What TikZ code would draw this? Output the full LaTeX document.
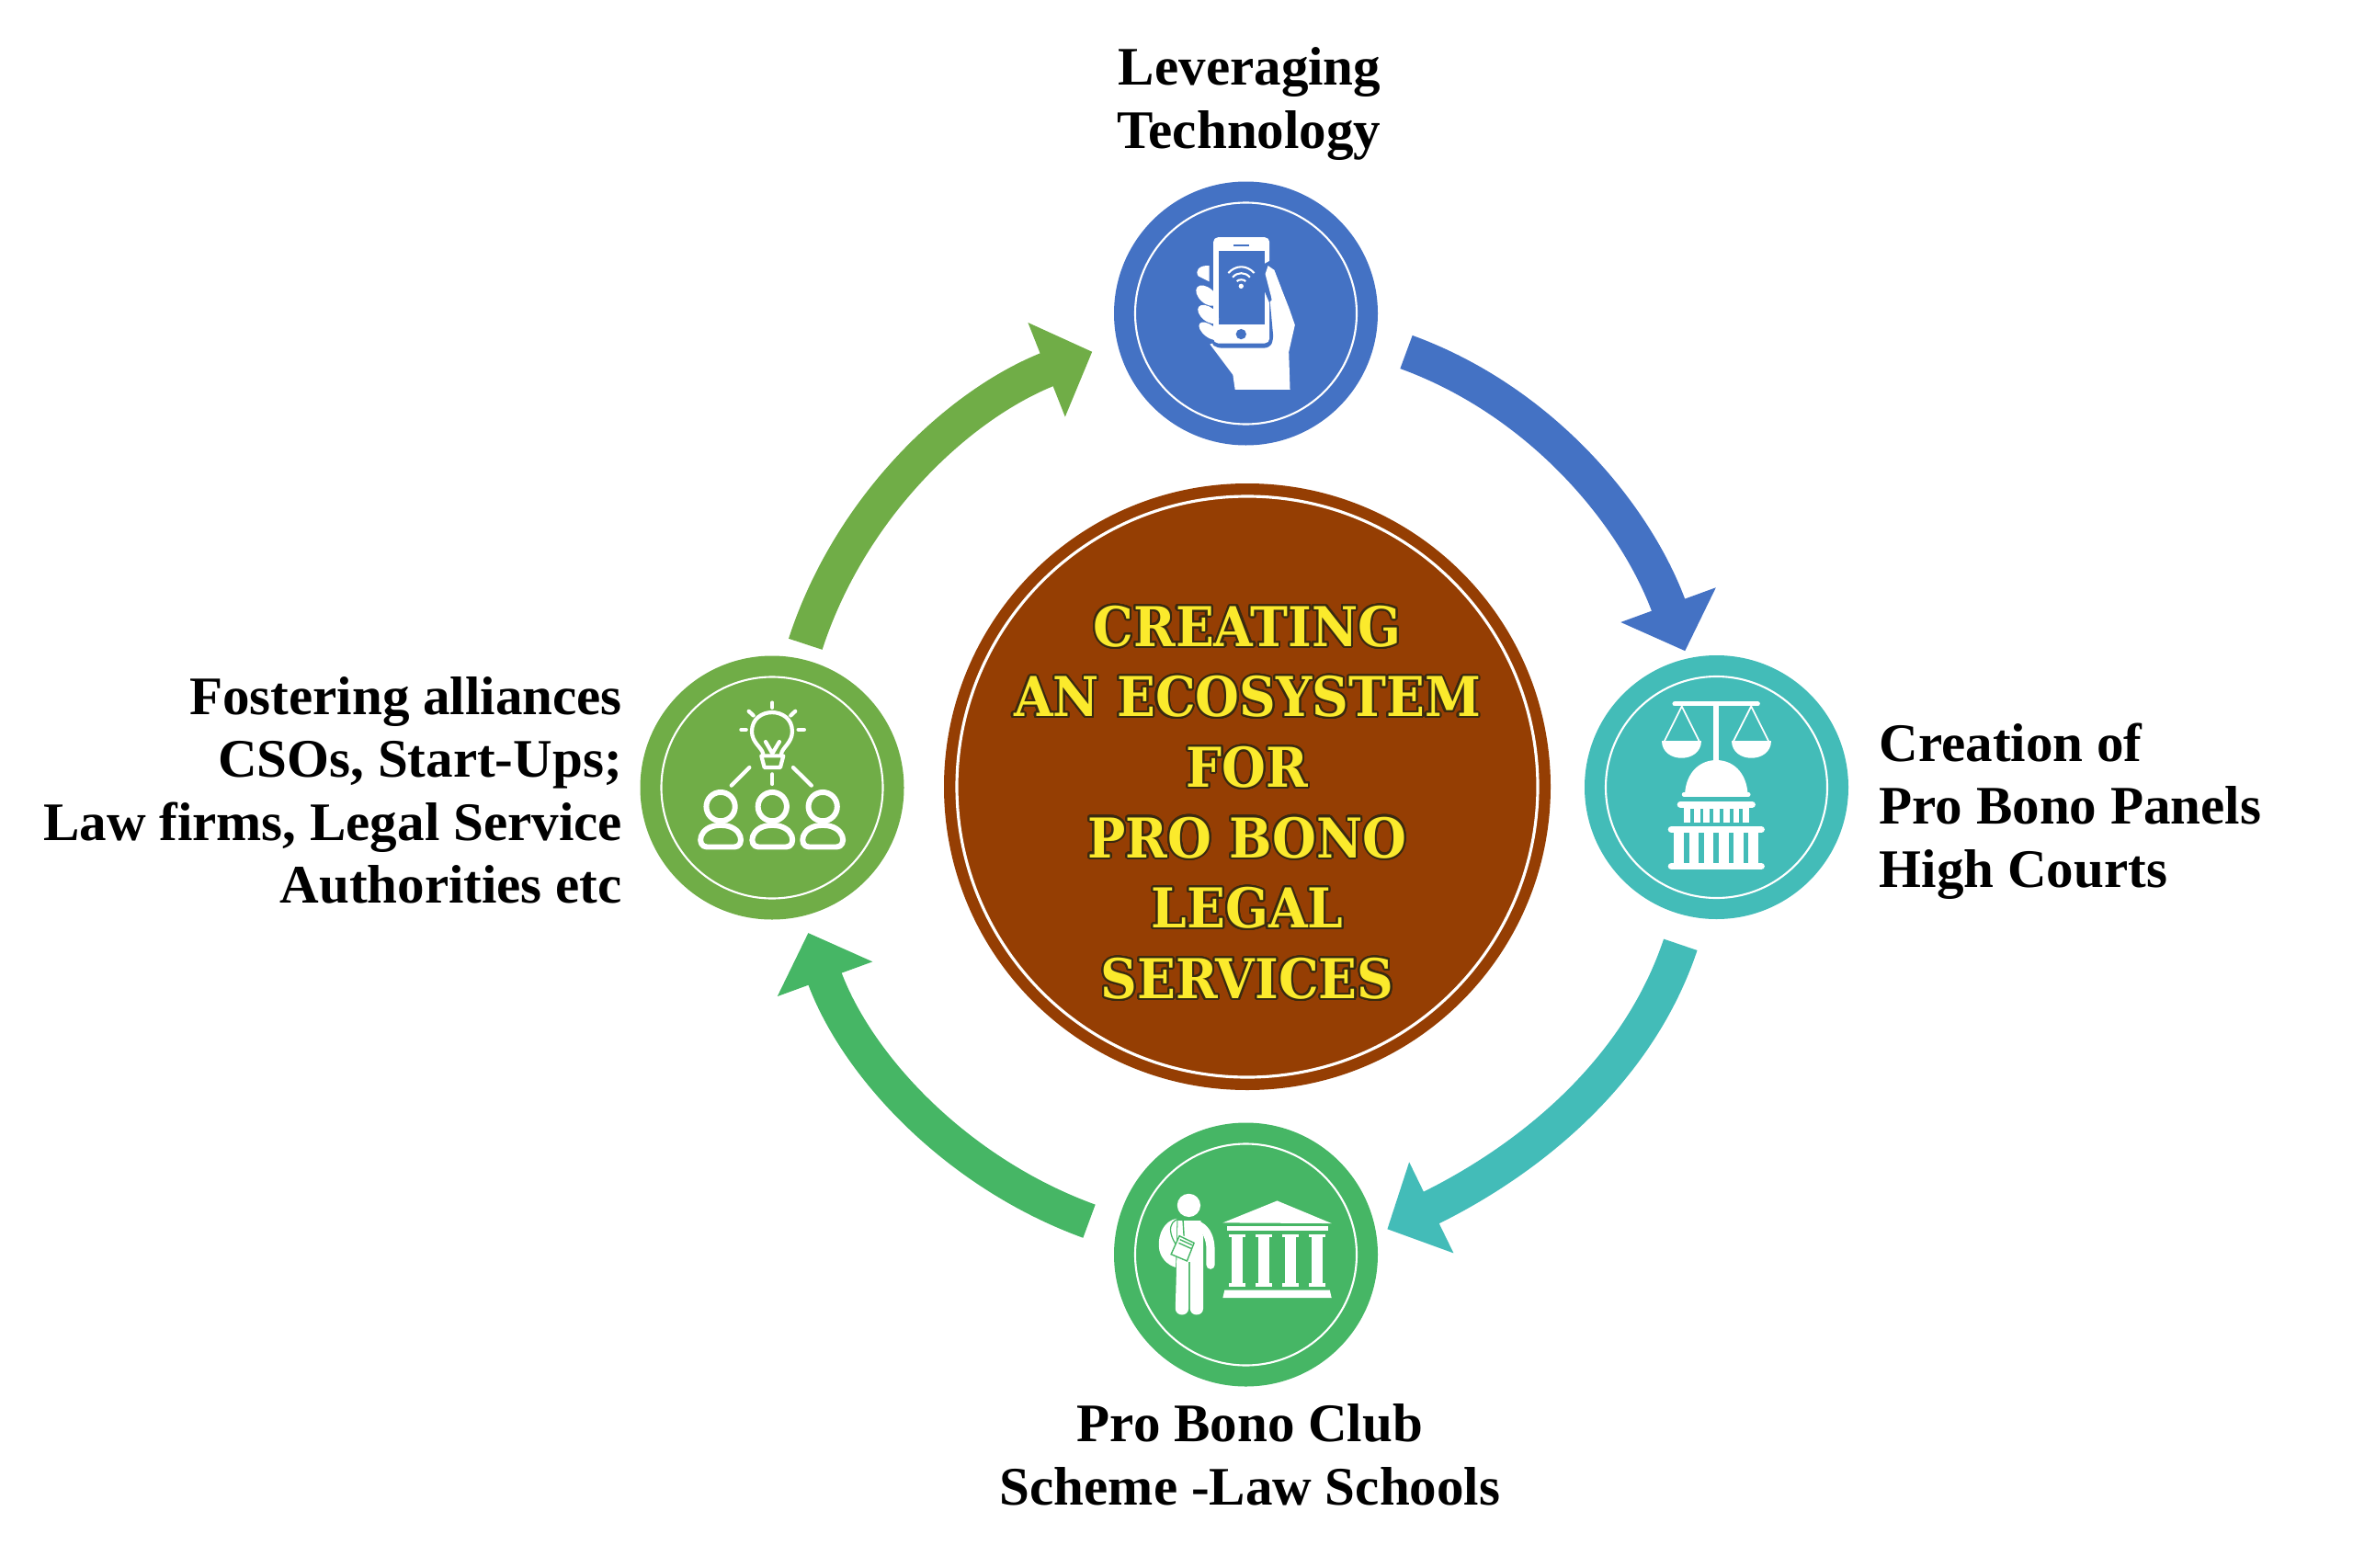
\documentclass[tikz,border=0pt]{standalone}
\usepackage{fontspec}
\usepackage{contour}
\usetikzlibrary{arrows.meta, positioning}
\setmainfont{Liberation Serif}
\newfontfamily\hubfont[FakeStretch=0.92]{DejaVu Serif}
\definecolor{techblue}{HTML}{4472C4}
\definecolor{courtteal}{HTML}{43BCB8}
\definecolor{clubgreen}{HTML}{46B665}
\definecolor{allygreen}{HTML}{70AD47}
\definecolor{hubbrown}{HTML}{953E03}
\definecolor{hubyellow}{HTML}{FBEA2C}
\definecolor{huboutline}{HTML}{3A2A10}
\contourlength{0.6pt}
\contournumber{32}
\newcommand{\hubline}[1]{\contour{huboutline}{#1}}
\tikzset{
    hubnode/.style={circle, draw=none, fill=hubbrown, minimum size=6.6cm, inner sep=0pt},
    stepnode/.style={circle, draw=none, minimum size=2.87cm, inner sep=0pt},
    ringline/.style={draw=white, line width=0.6pt},
    labeltext/.style={font=\fontsize{16.8}{19.5}\selectfont\bfseries, text=black, inner sep=0pt},
    flowline/.style={line width=3.85mm, -{Triangle[length=5.34mm,width=10.7mm]}},
    iconline/.style={draw=white, line width=1.2pt, line cap=round, line join=round},
    zoomgrid/.style={x=0.0033333cm, y=-0.0033333cm}
}
\begin{document}
\begin{tikzpicture}[>=stealth]
\useasboundingbox (0,0) rectangle (25.6,-17.06);

% Nodes
\node[hubnode] (hub) at (13.57,-8.56) {};
\node[stepnode, fill=techblue] (tech) at (13.555,-3.41) {};
\node[stepnode, fill=courtteal] (court) at (18.675,-8.565) {};
\node[stepnode, fill=clubgreen] (club) at (13.555,-13.65) {};
\node[stepnode, fill=allygreen] (ally) at (8.40,-8.57) {};

\draw[ringline, line width=0.9pt] (hub.center) circle (3.16);
\foreach \n in {tech, court, club, ally} {
    \draw[ringline] (\n.center) circle (1.205);
}

% Hub text
\node[align=center, text=hubyellow, inner sep=0pt, font=\hubfont\fontsize{17}{21.8}\selectfont\bfseries] (hubtext) at (13.57,-8.74) {%
    \hubline{CREATING}\\ \hubline{AN ECOSYSTEM}\\ \hubline{FOR}\\ \hubline{PRO BONO}\\ \hubline{LEGAL}\\ \hubline{SERVICES}};

% Labels
\node[labeltext, align=right, anchor=east] (techlabel) at (15.03,-1.13) {Leveraging\\Technology};
\node[labeltext, align=left, anchor=west] (courtlabel) at (20.44,-8.825) {Creation of\\Pro Bono Panels\\High Courts};
\node[labeltext, align=center] (clublabel) at (13.60,-15.83) {Pro Bono Club\\Scheme -Law Schools};
\node[labeltext, align=right, anchor=east] (allylabel) at (6.775,-8.60) {Fostering alliances\\CSOs, Start-Ups;\\Law firms, Legal Service\\Authorities etc};

% Connections: ring of arrows
\coordinate (techout) at (15.30,-3.83);
\coordinate (courtin) at (18.333,-7.083);
\coordinate (courtout) at (18.283,-10.278);
\coordinate (clubin) at (15.093,-13.373);
\coordinate (clubout) at (11.85,-13.287);
\coordinate (allyin) at (8.793,-10.15);
\coordinate (allyout) at (8.763,-7.008);
\coordinate (techin) at (11.883,-3.827);
\draw[flowline, techblue] (techout) to[out=-20, in=110, looseness=0.9] (courtin);
\draw[flowline, courtteal] (courtout) to[out=251.5, in=26, looseness=0.9] (clubin);
\draw[flowline, clubgreen] (clubout) to[out=160, in=-70, looseness=0.9] (allyin);
\draw[flowline, allygreen] (allyout) to[out=72, in=201.5, looseness=0.9] (techin);

% Phone in hand
\begin{scope}[shift={(11.8,-1.7)}, zoomgrid]
    \fill[white] (620,372) -- (670,500) -- (688,552) -- (668,640) -- (672,763) -- (492,763) -- (485,715) -- (410,615) -- (560,560) -- (590,400) -- cycle;
    \fill[techblue, rounded corners=1.5pt] (414,400) -- (590,400) -- (590,430) -- (606,470) -- (618,600) -- (605,627) -- (430,627) -- (414,610) -- cycle;
    \fill[white, rounded corners=1.5pt] (421,265) rectangle (605,612);
    \fill[techblue] (438,310) rectangle (588,550);
    \fill[techblue] (488,289) rectangle (537,295);
    \fill[techblue] (512,582) circle (17);
    \fill[white] (512,425) circle (8);
    \draw[white, line width=0.6pt] (470,382) .. controls (495,355) and (530,355) .. (555,382);
    \draw[white, line width=0.6pt] (484,396) .. controls (500,378) and (525,378) .. (541,396);
    \draw[white, line width=0.6pt] (498,409) .. controls (505,402) and (520,402) .. (527,409);
    \fill[techblue] (606,342) -- (588,352) -- (588,440) -- (604,478) -- (612,470) -- (612,342) -- cycle;
    \fill[white] (600,358) -- (620,372) -- (642,430) -- (642,482) -- (614,474) -- (598,412) -- (591,385) -- cycle;
    \fill[techblue] (410,345) rectangle (421,400);
    \fill[white] (400,358) .. controls (375,358) and (360,375) .. (372,392) -- (408,410) -- (408,358) -- cycle;
    \fill[white, rotate around={-42:(400,456)}] (400,456) ellipse[x radius=42, y radius=25];
    \fill[white, rotate around={-38:(405,517)}] (405,517) ellipse[x radius=40, y radius=23];
    \fill[white, rotate around={-38:(408,572)}] (408,572) ellipse[x radius=40, y radius=20];
\end{scope}

% Scales and court
\begin{scope}[shift={(17,-6.9)}, zoomgrid]
    \draw[white, line width=1.5pt, line cap=round] (367,228) -- (638,228);
    \fill[white] (492,235) rectangle (510,415);
    \draw[white, line width=0.5pt] (332,352) -- (390,236) -- (448,352);
    \draw[white, line width=0.5pt] (558,352) -- (617,236) -- (675,352);
    \fill[white] (325,350) .. controls (325,425) and (453,425) .. (453,350) -- cycle;
    \fill[white] (552,350) .. controls (552,425) and (682,425) .. (682,350) -- cycle;
    \fill[white] (400,522) .. controls (405,450) and (450,412) .. (503,412) .. controls (556,412) and (601,450) .. (606,522) -- cycle;
    \draw[white, line width=1.3pt, line cap=round] (397,524) -- (608,524);
    \draw[white, line width=2.1pt, line cap=round] (386,557) -- (620,557);
    \fill[white] (396,565) rectangle (609,616);
    \foreach \s in {418,450,482,515,547,577} {
        \fill[courtteal] (\s,570) rectangle ({\s+11},616);
    }
    \draw[white, line width=2.1pt, line cap=round] (356,639) -- (650,639);
    \fill[white] (365,645) rectangle (640,755);
    \foreach \s in {397,446,494,543,591} {
        \fill[courtteal] (\s,650) rectangle ({\s+17},748);
    }
    \draw[white, line width=2.1pt, line cap=round] (356,759) -- (650,759);
\end{scope}

% Student and school
\begin{scope}[shift={(11.8,-12)}, zoomgrid]
    \fill[white] (341,335) circle (38);
    \fill[white] (302,378) .. controls (260,385) and (240,430) .. (243,470) .. controls (245,505) and (270,530) .. (298,538) -- cycle;
    \fill[white] (305,385) -- (380,385) -- (388,440) -- (388,672) .. controls (388,700) and (345,700) .. (345,672) -- (345,520) -- (340,520) -- (340,672) .. controls (340,700) and (297,700) .. (297,672) -- cycle;
    \draw[white, line width=2.6pt, line cap=round, line join=round] (375,402) .. controls (400,415) and (412,445) .. (412,480) -- (412,530);
    \draw[clubgreen, line width=0.35pt] (312,378) .. controls (270,385) and (265,440) .. (335,505);
    \draw[clubgreen, line width=0.4pt] (322,385) -- (325,435);
    \filldraw[fill=white, draw=clubgreen, line width=0.4pt] (310,435) -- (358,458) -- (335,517) -- (283,495) -- cycle;
    \draw[clubgreen, line width=0.4pt] (312,447) -- (352,465);
    \draw[clubgreen, line width=0.4pt] (308,458) -- (348,476);
    \fill[white] (452,392) -- (630,320) -- (808,394) -- cycle;
    \fill[white] (465,402) rectangle (797,418);
    \foreach \c in {500,587,674,761} {
        \fill[white] ({\c-27},430) rectangle ({\c+27},440);
        \fill[white] ({\c-18},440) rectangle ({\c+18},590);
        \fill[white] ({\c-27},590) rectangle ({\c+27},602);
    }
    \fill[white] (458,612) -- (802,612) -- (808,638) -- (452,638) -- cycle;
\end{scope}

% Bulb and people
\begin{scope}[shift={(6.7,-6.9)}, zoomgrid]
    \draw[iconline] (482,392) .. controls (478,370) and (445,355) .. (445,318) .. controls (445,235) and (577,235) .. (577,318) .. controls (577,355) and (545,370) .. (541,392);
    \draw[iconline] (476,398) -- (548,398) -- (538,436) -- (486,436) -- cycle;
    \draw[iconline] (490,352) -- (512,390) -- (535,352);
    \draw[iconline] (512,224) -- (512,240);
    \draw[iconline] (435,252) -- (450,266);
    \draw[iconline] (587,252) -- (572,266);
    \draw[iconline] (410,312) -- (426,312);
    \draw[iconline] (597,312) -- (616,312);
    \draw[iconline] (437,436) -- (378,495);
    \draw[iconline] (512,458) -- (512,490);
    \draw[iconline] (580,436) -- (640,495);
    \foreach \px in {343,512,677} {
        \begin{scope}[shift={(\px,0)}]
            \draw[iconline, line width=1.7pt] (0,564) circle (47);
            \draw[iconline, line width=1.7pt] (-45,696) .. controls (-80,696) and (-75,625) .. (0,625) .. controls (75,625) and (80,696) .. (45,696) -- cycle;
        \end{scope}
    }
\end{scope}

\end{tikzpicture}
\end{document}
